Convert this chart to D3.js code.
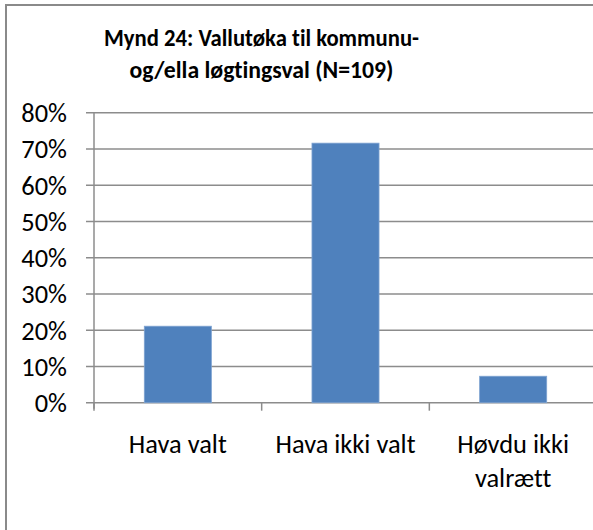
<!DOCTYPE html>
<html>
<head>
<meta charset="utf-8">
<script src="https://cdn.jsdelivr.net/npm/d3@7"></script>
<style>
  html, body { margin: 0; padding: 0; background: #fff; }
  svg { display: block; }
  text { font-family: Carlito, Calibri, Lato, "Open Sans", sans-serif; fill: #000; font-variant-ligatures: none; }
</style>
</head>
<body>
<svg id="chart" width="593" height="530"></svg>
<script>
const titleLines = ["Mynd 24: Vallutøka til kommunu-", "og/ella løgtingsval (N=109)"];
const categories = ["Hava valt", "Hava ikki valt", "Høvdu ikki valrætt"];
const categoryLines = [["Hava valt"], ["Hava ikki valt"], ["Høvdu ikki", "valrætt"]];
const values = [0.211, 0.716, 0.073];
const yTicks = [0, 0.1, 0.2, 0.3, 0.4, 0.5, 0.6, 0.7, 0.8];

const svg = d3.select("#chart");

// outer chart border (extends past the visible window on right/bottom)
svg.append("rect").attr("x", 6).attr("y", 5).attr("width", 700).attr("height", 700)
  .attr("fill", "#fff").attr("stroke", "#8a8a8a").attr("stroke-width", 2);

const plot = { left: 94, right: 597, top: 112.7, bottom: 402.7 };

const x = d3.scaleBand().domain(categories).range([plot.left, plot.right]).padding(0);
const y = d3.scaleLinear().domain([0, 0.8]).range([plot.bottom, plot.top]);

function measure(text, weight, size) {
  const t = svg.append("text").attr("font-size", size).attr("font-weight", weight).text(text);
  const w = t.node().getComputedTextLength();
  t.remove();
  return w;
}
const normalSize = 100 * 98 / measure("Hava valt", "normal", 100);
const titleSize = 25;

// gridlines
svg.append("g").selectAll("line").data(yTicks).join("line")
  .attr("x1", plot.left - 8).attr("x2", plot.right)
  .attr("y1", d => y(d)).attr("y2", d => y(d))
  .attr("stroke", "#8c8c8c").attr("stroke-width", 1.5);

// y axis line
svg.append("line").attr("x1", plot.left).attr("x2", plot.left)
  .attr("y1", plot.top).attr("y2", plot.bottom + 6)
  .attr("stroke", "#8c8c8c").attr("stroke-width", 1.5);

// x tick marks at category boundaries
const bounds = categories.map(c => x(c)).concat([x(categories[categories.length - 1]) + x.bandwidth()]);
svg.append("g").selectAll("line").data(bounds).join("line")
  .attr("x1", d => d).attr("x2", d => d)
  .attr("y1", plot.bottom).attr("y2", plot.bottom + 8)
  .attr("stroke", "#8c8c8c").attr("stroke-width", 1.5);

// bars (gap width 150%)
const barW = x.bandwidth() * 0.4;
svg.append("g").selectAll("rect").data(values).join("rect")
  .attr("x", (d, i) => x(categories[i]) + (x.bandwidth() - barW) / 2)
  .attr("width", barW)
  .attr("y", d => y(d))
  .attr("height", d => y(0) - y(d))
  .attr("fill", "#4f81bd")
  .attr("stroke", "#7ea3d1").attr("stroke-width", 0.8);

// y tick labels
svg.append("g").selectAll("text").data(yTicks).join("text")
  .attr("x", 67).attr("y", d => y(d))
  .attr("dy", "0.36em")
  .attr("text-anchor", "end")
  .attr("font-size", normalSize)
  .text(d => d3.format(".0%")(d));

// category labels
categoryLines.forEach((lines, i) => {
  const cx = x(categories[i]) + x.bandwidth() / 2;
  lines.forEach((ln, j) => {
    svg.append("text").attr("x", cx).attr("y", 453 + j * 33.5)
      .attr("text-anchor", "middle").attr("font-size", normalSize).text(ln);
  });
});

// title (compressed horizontally to match the reference's narrower face)
const titleWidths = [315, 264];
titleLines.forEach((ln, j) => {
  svg.append("text").attr("x", 261.5).attr("y", 46 + j * 32)
    .attr("text-anchor", "middle").attr("font-weight", "bold")
    .attr("font-size", titleSize)
    .attr("textLength", titleWidths[j]).attr("lengthAdjust", "spacingAndGlyphs")
    .text(ln);
});
</script>
</body>
</html>
